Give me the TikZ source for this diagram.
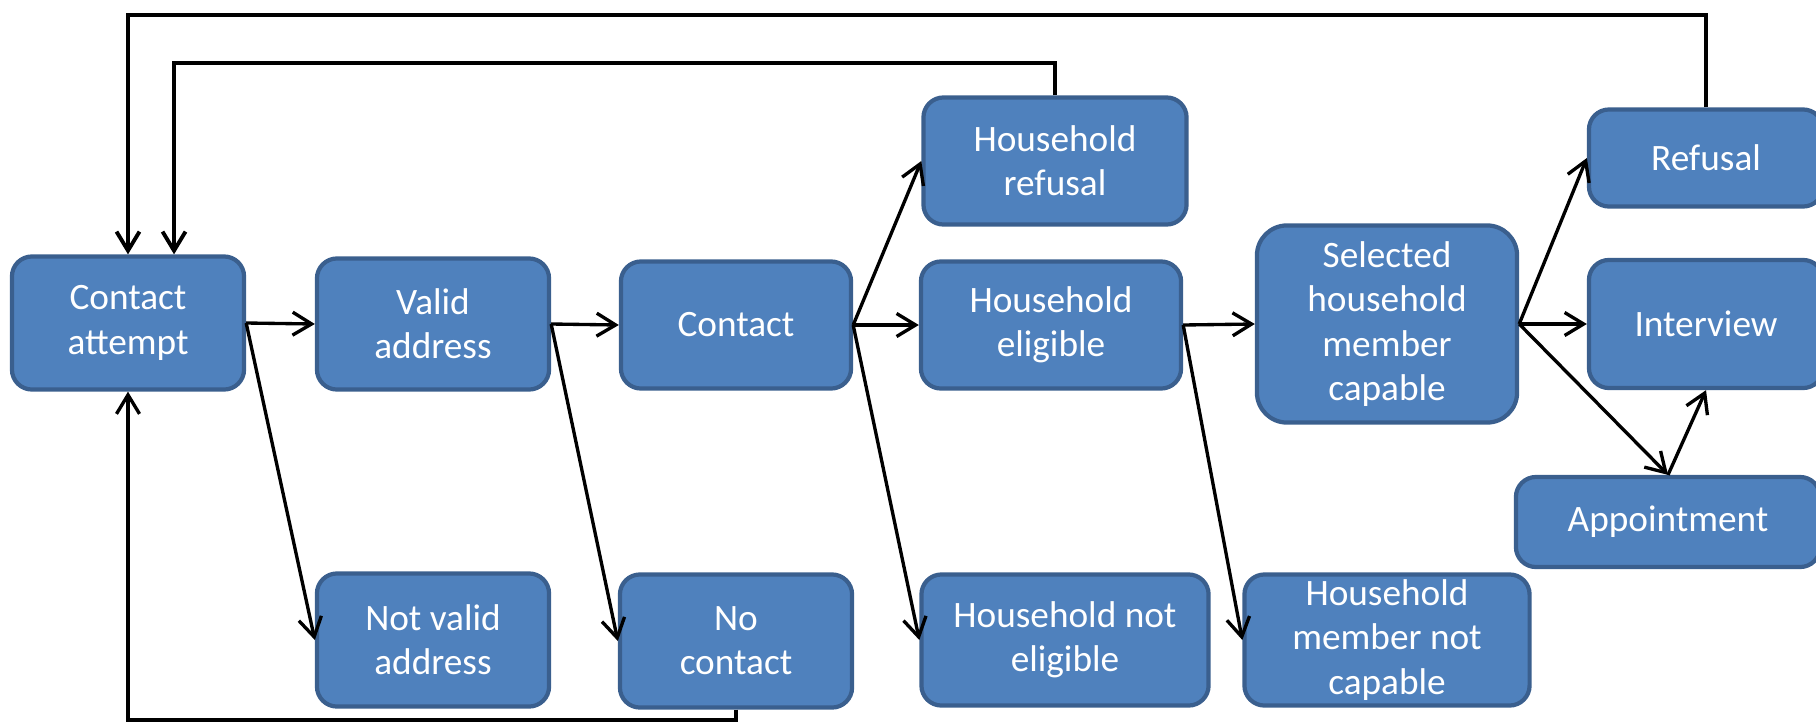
\documentclass[tikz,border=0pt]{standalone}
\usepackage{fontspec}
\setmainfont{Carlito}
\usepackage{tikz}
\usetikzlibrary{arrows.meta,positioning}
\definecolor{boxfill}{HTML}{4F81BD}
\definecolor{boxline}{HTML}{3A5F8E}
\tikzset{box/.style={draw=boxline,fill=boxfill,line width=1.2pt,rounded corners=0.2cm,align=center,text=white,font=\fontsize{10.6}{12.6}\selectfont,inner sep=0pt}}

\begin{document}
\begin{tikzpicture}[->, >={Straight Barb[length=1.9mm,width=2.3mm]}, line width=0.95pt, x=0.01cm, y=-0.01cm]
    \useasboundingbox (0,0) rectangle (1816,721);
    \node[box,minimum width=2.32cm,minimum height=1.33cm] (att) at (128,323) {Contact\\attempt};
    \node[box,minimum width=2.32cm,minimum height=1.31cm] (val) at (433,324) {Valid\\address};
    \node[box,minimum width=2.30cm,minimum height=1.27cm] (con) at (736,325) {Contact};
    \node[box,minimum width=2.63cm,minimum height=1.27cm] (hhref) at (1055,161) {Household\\refusal};
    \node[box,minimum width=2.60cm,minimum height=1.27cm] (hhel) at (1051,325) {Household\\eligible};
    \node[box,minimum width=2.60cm,minimum height=1.97cm,rounded corners=0.3cm] (sel) at (1387,324) {Selected\\household\\member\\capable};
    \node[box,minimum width=2.34cm,minimum height=0.97cm] (ref) at (1706,158) {Refusal};
    \node[box,minimum width=2.34cm,minimum height=1.28cm] (int) at (1706,324) {Interview};
    \node[box,minimum width=3.04cm,minimum height=0.90cm] (app) at (1668,522) {Appointment};
    \node[box,minimum width=2.32cm,minimum height=1.33cm] (nva) at (433,640) {Not valid\\address};
    \node[box,minimum width=2.32cm,minimum height=1.33cm] (noc) at (736,641) {No\\contact};
    \node[box,minimum width=2.87cm,minimum height=1.31cm] (hhne) at (1065,640) {Household not\\eligible};
    \node[box,minimum width=2.85cm,minimum height=1.31cm] (hmnc) at (1387,640) {Household\\member not\\capable};

    \coordinate (top1) at (0,15);
    \coordinate (top2) at (0,63);
    \coordinate (bot) at (0,720);

    \path (att.east) edge (val.west);
    \path (att.east) edge (nva.west);
    \path (val.east) edge (con.west);
    \path (val.east) edge (noc.west);
    \path (con.east) edge (hhref.west);
    \path (con.east) edge (hhel.west);
    \path (con.east) edge (hhne.west);
    \path (hhel.east) edge (sel.west);
    \path (hhel.east) edge (hmnc.west);
    \path (sel.east) edge (ref.west);
    \path (sel.east) edge (int.west);
    \path (sel.east) edge (app.north);
    \path (app.north) edge (int.south);

    % feedback loops back to the contact attempt
    \draw[line width=1.1pt] (ref.north) -- (ref.north |- top1) -| (att.north);
    \draw[line width=1.1pt] (hhref.north) -- (hhref.north |- top2) -| ([xshift=4.6mm]att.north);
    \draw (noc.south) -- (noc.south |- bot) -| (att.south);
\end{tikzpicture}
\end{document}
